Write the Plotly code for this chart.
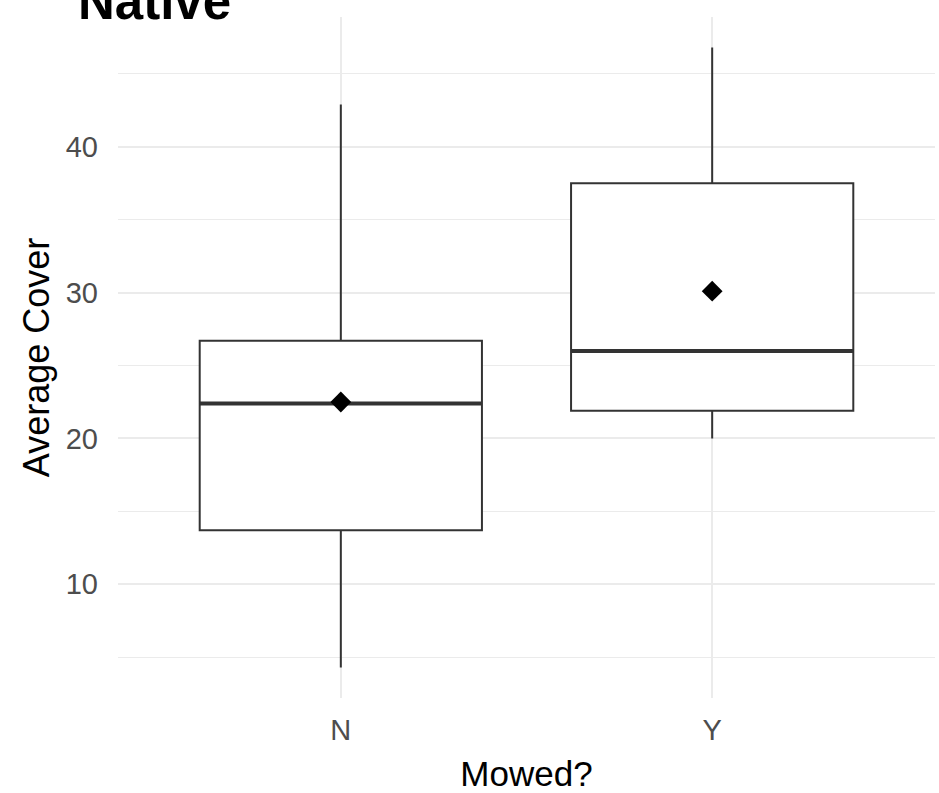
import plotly.graph_objects as go

categories = ["N", "Y"]
cat_pos = [1, 2]
q1 = [13.7, 21.9]
median = [22.4, 26.0]
q3 = [26.7, 37.5]
lower = [4.3, 20.0]
upper = [42.9, 46.8]
means = [22.5, 30.1]

box_width = 0.76
font_family = "Liberation Sans, Arial, sans-serif"

fig = go.Figure()
for i, c in enumerate(categories):
    fig.add_trace(go.Box(
        x=[cat_pos[i]], q1=[q1[i]], median=[median[i]], q3=[q3[i]],
        lowerfence=[lower[i]], upperfence=[upper[i]],
        width=box_width, whiskerwidth=0,
        fillcolor="white", line=dict(color="#333333", width=2),
        name=c, showlegend=False, hoverinfo="skip", boxpoints=False,
    ))
    # thicker median line (ggplot fatten)
    fig.add_trace(go.Scatter(
        x=[cat_pos[i] - box_width / 2, cat_pos[i] + box_width / 2],
        y=[median[i], median[i]], mode="lines",
        line=dict(color="#333333", width=4), showlegend=False, hoverinfo="skip",
    ))

fig.add_trace(go.Scatter(
    x=cat_pos, y=means, mode="markers",
    marker=dict(symbol="diamond", size=16, color="black"),
    showlegend=False, hoverinfo="skip",
))

fig.update_layout(
    width=939, height=793,
    margin=dict(l=118, r=4, t=17, b=95),
    paper_bgcolor="white", plot_bgcolor="white",
    font=dict(family=font_family),
    xaxis=dict(
        range=[0.4, 2.6], tickvals=cat_pos, ticktext=categories,
        showgrid=True, gridcolor="#ebebeb", gridwidth=1.5, zeroline=False,
        showline=False, ticks="", ticklabelstandoff=12, automargin=False,
        tickfont=dict(size=29, color="#4d4d4d", family=font_family),
        title=dict(text="Mowed?", font=dict(size=35, color="black", family=font_family), standoff=17),
    ),
    yaxis=dict(
        range=[2.2, 48.9], tickvals=[10, 20, 30, 40],
        showgrid=True, gridcolor="#ebebeb", gridwidth=1.5, zeroline=False,
        showline=False, ticks="", ticklabelstandoff=19, automargin=False,
        minor=dict(tickvals=[5, 15, 25, 35, 45], showgrid=True, gridcolor="#ebebeb", gridwidth=1),
        tickfont=dict(size=29, color="#4d4d4d", family=font_family),
        title=dict(text="Average Cover", font=dict(size=36, color="black", family=font_family), standoff=5),
    ),
    annotations=[dict(
        text="<b>Native</b>", xref="paper", yref="paper",
        x=(76 - 118) / 817, y=0.978, xanchor="left", yanchor="bottom",
        showarrow=False, font=dict(size=51, color="black", family=font_family),
    )],
)

fig.write_html("out.html", config={"displayModeBar": False},
               post_script="document.body.style.margin='0';")
